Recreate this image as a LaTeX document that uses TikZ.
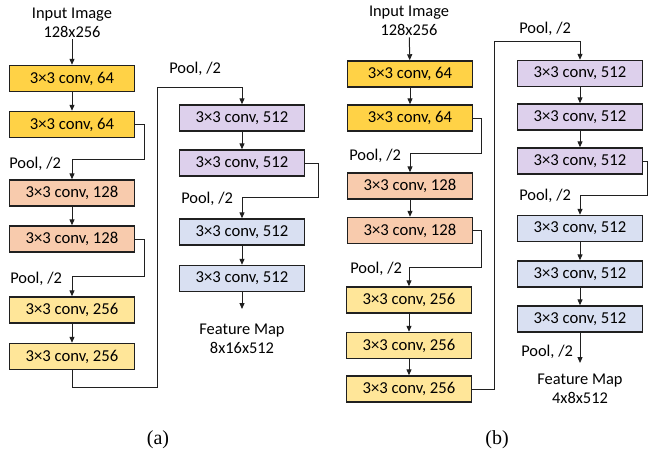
\documentclass[tikz,border=0pt]{standalone}
\usepackage{fontspec}
\setmainfont{Carlito}
\newfontfamily\capfont{Liberation Serif}
\usetikzlibrary{arrows.meta}
\definecolor{cgold}{HTML}{FFD246}
\definecolor{csalmon}{HTML}{F8CBAD}
\definecolor{cyel}{HTML}{FFE699}
\definecolor{cpurp}{HTML}{DDD0EC}
\definecolor{cblue}{HTML}{D9E0F2}
\definecolor{cline}{HTML}{202020}
\tikzset{
  box/.style={draw=cline, line width=1.1pt, minimum width=94pt, minimum height=19.5pt, inner sep=0pt, font=\fontsize{12.5}{14}\selectfont},
  lbl/.style={inner sep=0pt, font=\fontsize{12.3}{14}\selectfont, anchor=west},
  io/.style={inner sep=1pt, align=center, font=\fontsize{12.3}{14.25}\selectfont},
  arr/.style={draw=cline, line width=0.75pt, -{Triangle[length=4.5pt,width=3.8pt]}},
  captxt/.style={inner sep=0pt, font=\capfont\fontsize{15}{17}\selectfont}
}
\begin{document}
\begin{tikzpicture}[x=0.75pt,y=-0.75pt]
\useasboundingbox (0,0) rectangle (648,464);
% ---------------- (a) ----------------
\node[io] (ain) at (72,23) {Input Image\\128x256};
\node[box,fill=cgold] (a1) at (72,78.5) {3×3 conv, 64};
\node[box,fill=cgold] (a2) at (72,124.5) {3×3 conv, 64};
\node[box,fill=csalmon] (a3) at (72,193) {3×3 conv, 128};
\node[box,fill=csalmon] (a4) at (72,239) {3×3 conv, 128};
\node[box,fill=cyel] (a5) at (72,310) {3×3 conv, 256};
\node[box,fill=cyel] (a6) at (72,356.5) {3×3 conv, 256};
\node[box,fill=cpurp] (a7) at (242,118) {3×3 conv, 512};
\node[box,fill=cpurp] (a8) at (242,163) {3×3 conv, 512};
\node[box,fill=cblue] (a9) at (242,232) {3×3 conv, 512};
\node[box,fill=cblue] (a10) at (242,278.5) {3×3 conv, 512};
\node[io] (aout) at (242,339) {Feature Map\\8x16x512};
\coordinate (aend) at (242,309);
\coordinate (ap1) at (144,159);
\coordinate (ap2) at (144,276);
\coordinate (ap3) at (157,387);
\coordinate (ap4) at (157,87);
\coordinate (ap5) at (318,197);
\node[lbl] (al1) at (9,164) {Pool, /2};
\node[lbl] (al2) at (10,279) {Pool, /2};
\node[lbl] (al3) at (169,69) {Pool, /2};
\node[lbl] (al4) at (181,199) {Pool, /2};
\draw[arr] (ain) -- (a1);
\draw[arr] (a1) -- (a2);
\draw[arr] (a2.east) -| (ap1) -| (a3.north);
\draw[arr] (a3) -- (a4);
\draw[arr] (a4.east) -| (ap2) -| (a5.north);
\draw[arr] (a5) -- (a6);
\draw[arr] (a6.south) |- (ap3) -- (ap4) -| (a7.north);
\draw[arr] (a7) -- (a8);
\draw[arr] (a8.east) -| (ap5) -| (a9.north);
\draw[arr] (a9) -- (a10);
\draw[arr] (a10.south) -- (aend);
% ---------------- (b) ----------------
\node[io] (bin) at (409,21) {Input Image\\128x256};
\node[box,fill=cgold] (b1) at (410,74) {3×3 conv, 64};
\node[box,fill=cgold] (b2) at (410,118) {3×3 conv, 64};
\node[box,fill=csalmon] (b3) at (410,186) {3×3 conv, 128};
\node[box,fill=csalmon] (b4) at (410,230.5) {3×3 conv, 128};
\node[box,fill=cyel] (b5) at (409,300) {3×3 conv, 256};
\node[box,fill=cyel] (b6) at (409,345.5) {3×3 conv, 256};
\node[box,fill=cyel] (b7) at (409,389) {3×3 conv, 256};
\node[box,fill=cpurp] (b8) at (580,73.5) {3×3 conv, 512};
\node[box,fill=cpurp] (b9) at (580,117) {3×3 conv, 512};
\node[box,fill=cpurp] (b10) at (580,161) {3×3 conv, 512};
\node[box,fill=cblue] (b11) at (580,228.5) {3×3 conv, 512};
\node[box,fill=cblue] (b12) at (580,274) {3×3 conv, 512};
\node[box,fill=cblue] (b13) at (580,319) {3×3 conv, 512};
\node[io] (bout) at (580,388.5) {Feature Map\\4x8x512};
\coordinate (bend) at (580,363);
\coordinate (bp1) at (481,153);
\coordinate (bp2) at (481,267);
\coordinate (bp3) at (494,41);
\coordinate (bp4) at (647.5,195);
\node[lbl] (bl1) at (349,156) {Pool, /2};
\node[lbl] (bl2) at (350,269) {Pool, /2};
\node[lbl] (bl3) at (519,29) {Pool, /2};
\node[lbl] (bl4) at (519,196) {Pool, /2};
\node[lbl] (bl5) at (521,352) {Pool, /2};
\draw[arr] (bin) -- (b1);
\draw[arr] (b1) -- (b2);
\draw[arr] (b2.east) -| (bp1) -| (b3.north);
\draw[arr] (b3) -- (b4);
\draw[arr] (b4.east) -| (bp2) -| (b5.north);
\draw[arr] (b5) -- (b6);
\draw[arr] (b6) -- (b7);
\draw[arr] (b7.east) -| (bp3) -| (b8.north);
\draw[arr] (b8) -- (b9);
\draw[arr] (b9) -- (b10);
\draw[arr] (b10.east) -| (bp4) -| (b11.north);
\draw[arr] (b11) -- (b12);
\draw[arr] (b12) -- (b13);
\draw[arr] (b13.south) -- (bend);
% captions
\node[captxt] (capa) at (158,440) {(a)};
\node[captxt] (capb) at (497,440) {(b)};
\end{tikzpicture}
\end{document}
